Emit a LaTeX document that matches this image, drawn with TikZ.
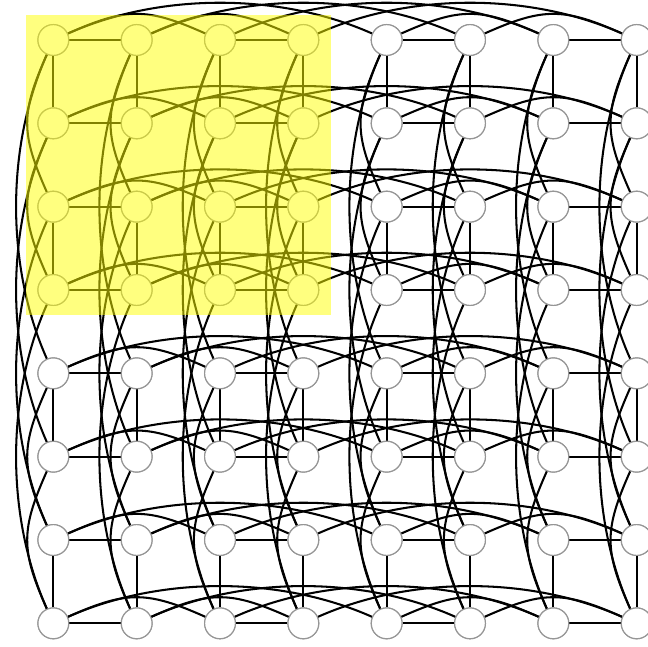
\documentclass[tikz,border=0pt]{standalone}
\usepackage{tikz}
\usetikzlibrary{positioning}
\usepackage{xcolor}
\definecolor{RimGray}{RGB}{150,150,150}
\definecolor{MarkYellow}{RGB}{255,255,0}
\tikzset{
  vertex/.style={circle, draw=RimGray, fill=white, line width=0.8pt,
    minimum size=0.74cm, inner sep=0pt},
  link/.style={line width=1.4pt, black},
  hopshort/.style={link, looseness=1.2},
  hoplong/.style={link, looseness=0.85},
  submesh/.style={fill=MarkYellow, opacity=0.5}
}

\begin{document}
\begin{tikzpicture}
  \useasboundingbox (0,0) rectangle (15.552,-15.504);
  % 8 x 8 nodes
  \foreach \i in {0,...,7}
    \foreach \j in {0,...,7}
      \node[vertex] (n-\i-\j) at ({1.28+2*\i},{-0.96-2*\j}) {};
  % links inside every row and every column (cube of size 8)
  \foreach \k in {0,...,7} {
    \foreach \a/\b in {0/1,2/3,4/5,6/7} {
      \draw[link] (n-\a-\k) -- (n-\b-\k);
      \draw[link] (n-\k-\a) -- (n-\k-\b);
    }
    \foreach \a/\b in {0/2,1/3,4/6,5/7} {
      \draw[hopshort] (n-\a-\k) to[bend left=24] (n-\b-\k);
      \draw[hopshort] (n-\k-\a) to[bend right=24] (n-\k-\b);
    }
    \foreach \a/\b in {0/4,1/5,2/6,3/7} {
      \draw[hoplong] (n-\a-\k) to[bend left=24] (n-\b-\k);
      \draw[hoplong] (n-\k-\a) to[bend right=24] (n-\k-\b);
    }
  }
  % redraw the nodes over the links
  \foreach \i in {0,...,7}
    \foreach \j in {0,...,7}
      \node[vertex] at (n-\i-\j) {};
  % highlighted 4 x 4 block
  \fill[submesh] (0.624,-0.36) rectangle (7.944,-7.56);
\end{tikzpicture}
\end{document}
